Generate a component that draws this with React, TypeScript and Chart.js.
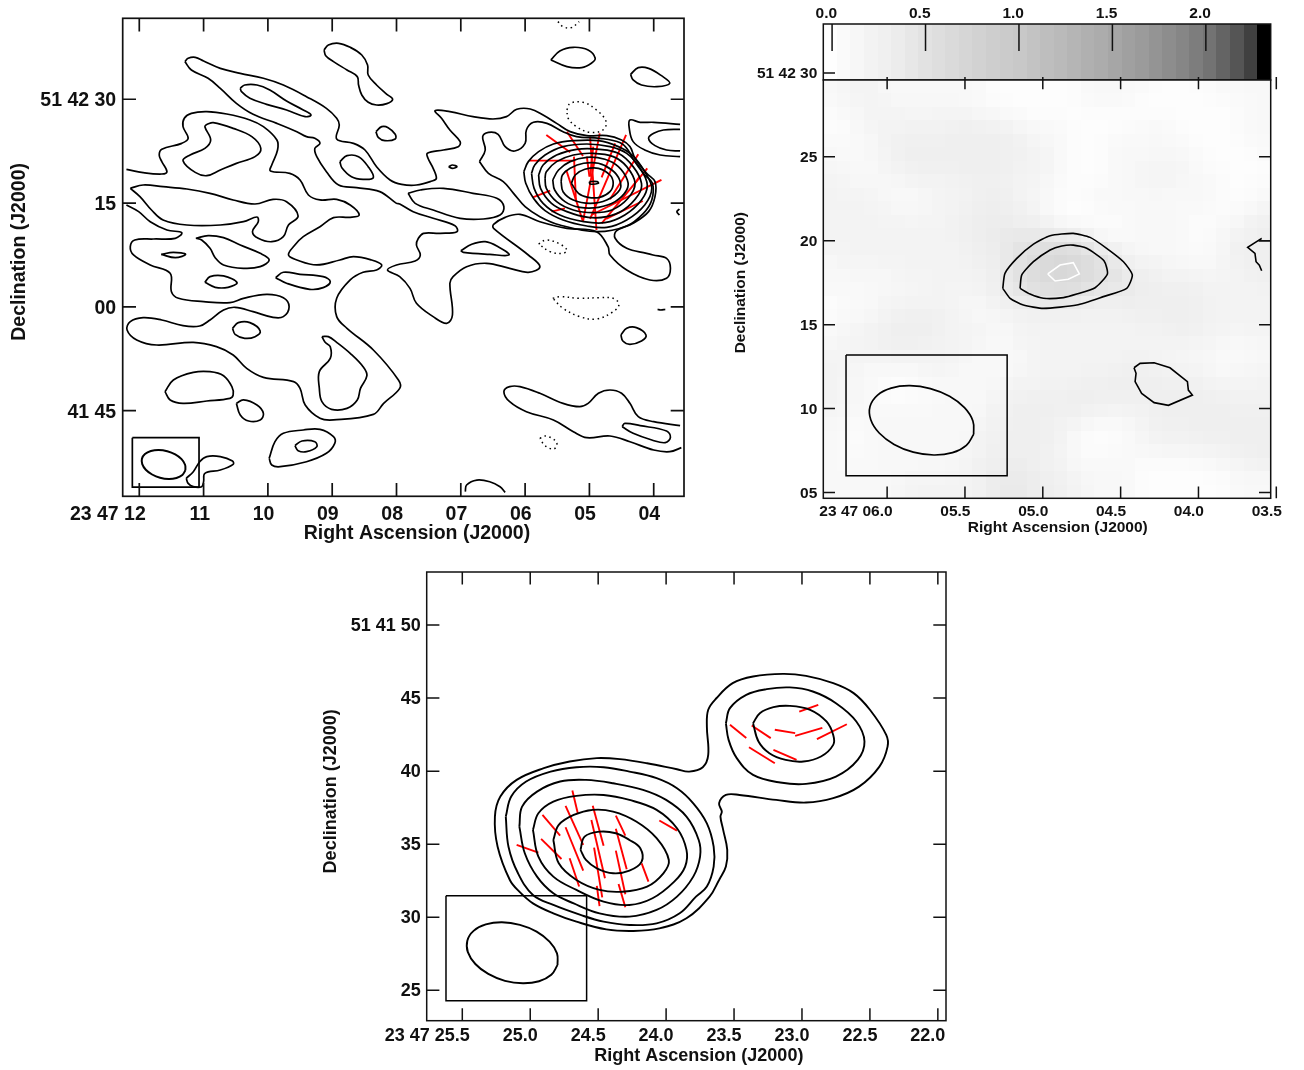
import React, { useEffect, useRef } from "react";
import { Chart, registerables } from "chart.js";

Chart.register(...registerables);

type P = number[];
const FONT = "'Liberation Sans', Arial, sans-serif";

// ---------- Panel 1: tick values ----------
const p1RaTicks = [12, 11, 10, 9, 8, 7, 6, 5, 4];
const p1RaLabels = ["23 47 12", "11", "10", "09", "08", "07", "06", "05", "04"];
const p1DecTicks = [90, 75, 60, 45];
const p1DecLabels = ["51 42 30", "15", "00", "41 45"];

// ---------- Panel 1: contours (RA seconds, Dec arcsec past 51 41 00) ----------
const p1A: P[] = [[11.29,95.44],[11.24,95.92],[11.13,96.06],[11.0,95.53],[10.74,94.47],[10.43,93.75],[10.07,93.03],[9.76,92.06],[9.4,90.38],[9.09,88.69],[8.93,87.25],[8.89,86.28],[8.93,84.26],[8.67,83.63],[8.49,82.67],[8.31,80.26],[8.1,78.34],[7.92,77.71],[7.69,77.61],[7.45,78.19],[7.38,78.58],[7.43,80.02],[7.51,81.47],[7.52,82.19],[7.27,82.67],[7.04,83.15],[7.01,83.88],[7.17,85.56],[7.3,87.25],[7.4,88.36],[7.17,88.21],[6.81,87.49],[6.5,87.15],[6.29,87.49],[6.13,88.55],[5.92,88.6],[5.72,87.73],[5.51,86.52],[5.3,85.32],[5.04,84.75],[4.73,84.75],[4.5,84.12],[4.37,83.16],[4.29,81.47],[4.11,79.3],[3.98,78.1],[3.98,75.93],[4.08,73.76],[4.32,72.08],[4.58,70.97],[4.6,69.91],[4.42,68.46],[4.11,67.74],[4.01,67.5],[3.8,67.02],[3.74,65.57],[3.8,64.13],[4.06,63.89],[4.42,65.33],[4.68,67.5],[4.71,68.7],[4.89,70.87],[5.35,71.35],[5.77,72.31],[6.08,73.37],[6.31,72.94],[6.49,71.93],[6.49,71.35],[5.95,67.5],[5.77,65.81],[5.95,65.0],[6.24,65.57],[6.6,66.3],[6.91,65.81],[7.12,64.37],[7.17,63.41],[7.13,58.83],[7.22,57.63],[7.43,58.59],[7.69,60.52],[7.79,62.68],[7.95,64.37],[8.14,65.33],[8.0,66.06],[7.71,66.63],[7.63,67.5],[7.69,68.94],[7.66,69.91],[7.58,70.63],[7.32,70.63],[7.06,70.87],[7.09,71.74],[7.43,72.8],[7.74,73.76],[7.95,74.87],[8.0,74.96],[8.26,76.65],[8.62,77.23],[8.9,77.61],[9.09,79.54],[9.24,81.71],[9.27,82.91],[9.19,83.63],[9.27,84.36],[9.4,84.6],[9.55,85.32],[9.86,86.52],[10.23,87.83],[10.49,89.41],[10.74,91.58],[10.93,93.03],[11.19,94.23],[11.29,95.44]];
const p1B: P[] = [[12.2,79.88],[11.94,79.4],[11.65,79.2],[11.57,79.54],[11.65,80.99],[11.69,81.95],[11.65,82.77],[11.34,83.63],[11.24,84.36],[11.32,86.04],[11.3,87.25],[11.19,87.97],[10.95,88.21],[10.64,87.87],[10.28,87.01],[10.07,86.04],[9.86,84.12],[9.85,82.67],[9.94,80.5],[9.96,79.64],[9.66,79.3],[9.5,78.34],[9.37,76.17],[9.19,75.45],[8.93,75.54],[8.72,74.72],[8.58,73.28],[8.72,72.94],[8.98,72.89],[9.19,71.59],[9.45,70.15],[9.58,68.94],[9.68,67.5],[9.55,66.78],[9.24,66.06],[8.88,66.78],[8.67,67.26],[8.39,66.78],[8.23,66.06],[8.31,65.33],[8.52,65.0],[8.72,63.89],[8.93,61.24],[8.93,58.59],[8.77,56.9],[8.36,53.77],[7.97,49.44],[7.95,48.23],[8.2,46.06],[8.36,44.47],[8.98,43.66],[9.19,43.9],[9.42,45.82],[9.5,48.23],[9.6,49.2],[10.07,49.82],[10.33,51.12],[10.54,53.05],[10.8,54.25],[11.16,54.88],[11.73,54.49],[12.04,55.22],[12.19,56.66],[12.14,57.87],[11.94,58.44],[11.65,58.11],[11.32,57.29],[11.06,57.24],[10.9,58.11],[10.69,59.55],[10.51,59.94],[10.23,59.31],[9.92,58.49],[9.76,58.59],[9.67,60.03],[9.76,61.33],[10.02,61.82],[10.38,61.24],[10.59,60.61],[11.0,60.76],[11.39,61.24],[11.5,62.2],[11.52,64.85],[11.83,66.06],[12.09,67.5],[12.14,68.7],[12.07,69.66],[11.78,69.81],[11.44,69.91],[11.34,70.72],[11.57,71.11],[11.83,72.31],[12.01,73.76],[12.2,74.72]];
const p1C1: P[] = [[9.127,97.12],[9.06,97.84],[8.9,98.09],[8.72,97.51],[8.54,96.4],[8.45,94.95],[8.44,93.51],[8.31,92.06],[8.15,90.72],[8.06,90.0],[8.15,89.37],[8.31,89.17],[8.44,89.56],[8.54,90.62],[8.59,92.06],[8.61,93.27],[8.77,94.23],[8.98,95.44],[9.1,96.3],[9.127,97.12]];
const p1C3: P[] = [[10.43,91.58],[10.36,92.06],[10.17,92.06],[9.97,91.34],[9.71,89.75],[9.45,88.45],[9.33,87.73],[9.42,87.49],[9.71,88.45],[10.02,89.27],[10.28,90.14],[10.41,91.1],[10.43,91.58]];
const p1C5: P[] = [[10.95,86.38],[10.85,86.62],[10.54,85.8],[10.25,84.6],[10.11,82.91],[10.2,81.71],[10.49,80.74],[10.74,79.78],[10.95,78.96],[11.13,79.44],[11.32,81.13],[11.21,81.95],[10.98,82.91],[10.89,84.12],[10.98,86.04],[10.95,86.38]];
const p1C6: P[] = [[8.88,80.99],[8.77,81.85],[8.59,81.71],[8.44,80.26],[8.36,78.67],[8.52,78.43],[8.7,78.82],[8.85,80.12],[8.88,80.99]];
const p1C7: P[] = [[8.32,85.32],[8.23,86.04],[8.13,85.9],[8.02,84.94],[8.02,84.26],[8.18,84.02],[8.28,84.45],[8.32,85.32]];
const p1C8: P[] = [[7.82,76.41],[7.63,76.89],[7.27,77.13],[6.81,76.41],[6.44,75.69],[6.33,74.48],[6.39,73.28],[6.65,72.7],[7.01,72.8],[7.43,74.0],[7.71,74.96],[7.82,76.41]];
const p1C9: P[] = [[12.14,77.13],[11.94,77.61],[11.63,77.37],[11.26,77.03],[10.9,76.41],[10.54,75.45],[10.2,74.87],[9.92,75.54],[9.71,75.2],[9.53,73.13],[9.68,71.83],[9.76,70.15],[9.94,69.42],[10.15,69.91],[10.24,70.87],[10.15,72.31],[10.17,72.99],[10.38,72.31],[10.74,71.83],[11.26,71.83],[11.63,72.56],[11.81,74.0],[11.99,75.93],[12.14,77.13]];
const p1C11: P[] = [[11.66,67.59],[11.47,67.88],[11.28,67.59],[11.44,67.11],[11.66,67.59]];
const p1C12: P[] = [[11.12,69.91],[10.93,70.29],[10.69,70.0],[10.43,68.94],[10.12,67.74],[9.98,66.78],[10.12,65.81],[10.38,65.57],[10.69,66.06],[10.82,67.11],[10.9,68.46],[11.03,69.66],[11.12,69.91]];
const p1C13: P[] = [[10.98,63.55],[10.9,64.37],[10.69,64.47],[10.48,63.5],[10.62,62.83],[10.82,62.83],[10.98,63.55]];
const p1C14: P[] = [[9.88,64.22],[9.76,65.0],[9.5,64.71],[9.14,64.37],[9.03,63.65],[9.14,62.78],[9.35,62.54],[9.71,63.41],[9.88,64.22]];
const p1C15: P[] = [[10.55,56.9],[10.46,57.72],[10.28,57.72],[10.12,56.52],[10.2,55.7],[10.36,55.46],[10.51,56.04],[10.55,56.9]];
const p1C16: P[] = [[11.6,47.75],[11.47,49.44],[11.16,50.54],[10.9,50.64],[10.69,50.06],[10.56,48.47],[10.54,47.27],[10.59,46.79],[10.95,46.4],[11.32,46.06],[11.52,46.55],[11.6,47.75]];
const p1C17: P[] = [[10.49,46.06],[10.38,46.55],[10.17,45.82],[10.07,44.62],[10.12,43.66],[10.3,43.51],[10.43,44.38],[10.49,46.06]];
const p1C18: P[] = [[9.16,55.7],[9.06,55.7],[8.93,54.88],[8.72,53.29],[8.52,51.36],[8.46,50.06],[8.56,48.23],[8.61,46.55],[8.77,45.34],[9.01,45.2],[9.16,46.3],[9.2,48.23],[9.2,50.64],[9.03,52.57],[9.03,54.25],[9.11,54.88],[9.16,55.7]];
const p1C19: P[] = [[9.98,38.12],[9.89,40.52],[9.76,41.73],[9.45,42.21],[9.19,42.31],[8.98,41.25],[8.96,40.28],[9.09,38.84],[9.4,37.63],[9.81,36.91],[9.94,37.15],[9.98,38.12]];
const p1C20: P[] = [[9.58,39.95],[9.47,40.62],[9.27,40.52],[9.24,39.8],[9.4,39.08],[9.53,39.22],[9.58,39.95]];
const p1C21: P[] = [[11.27,35.23],[11.16,36.19],[11.06,37.63],[10.95,38.36],[10.74,38.36],[10.55,37.73],[10.54,37.25],[10.74,36.43],[10.98,35.95],[11.0,34.74],[11.03,34.02],[11.16,34.02],[11.24,34.5],[11.27,35.23]];
const p1C24: P[] = [[5.6,95.68],[5.46,96.98],[5.25,97.51],[5.02,97.12],[4.91,95.92],[4.97,95.2],[5.12,94.57],[5.35,94.71],[5.6,95.68]];
const p1C25: P[] = [[4.36,93.61],[4.24,94.57],[4.08,94.47],[3.88,93.41],[3.75,92.31],[3.95,91.82],[4.19,92.06],[4.32,92.79],[4.36,93.61]];
const p1C28: P[] = [[6.71,80.99],[6.62,82.67],[6.66,84.6],[6.57,85.22],[6.42,84.94],[6.31,83.15],[6.16,82.53],[6.0,83.63],[5.98,85.56],[5.87,86.67],[5.66,86.52],[5.41,85.32],[5.2,84.6],[4.84,84.36],[4.52,83.73],[4.4,82.67],[4.32,81.33],[4.14,79.06],[4.02,77.86],[4.03,75.45],[4.16,73.52],[4.42,71.69],[4.89,70.87],[5.46,71.83],[5.77,73.04],[6.0,74.48],[6.18,76.41],[6.34,78.1],[6.57,79.3],[6.71,80.99]];
const p1R1: P[] = [[6.02,79.54],[5.99,77.86],[5.87,75.69],[5.69,73.91],[5.41,72.56],[5.04,71.69],[4.73,71.5],[4.42,72.56],[4.14,74.73],[4.03,77.13],[4.14,79.54],[4.34,81.95],[4.55,83.16],[4.86,84.02],[5.25,84.02],[5.56,83.54],[5.79,82.43],[5.95,80.99],[6.02,79.54]];
const p1R2: P[] = [[5.9,79.3],[5.86,77.13],[5.72,74.97],[5.46,73.28],[5.09,72.32],[4.76,72.17],[4.45,73.28],[4.19,75.45],[4.1,77.62],[4.21,80.02],[4.42,82.19],[4.68,83.16],[5.04,83.54],[5.41,83.16],[5.69,81.95],[5.85,80.51],[5.9,79.3]];
const p1R3: P[] = [[5.79,79.06],[5.76,77.13],[5.59,74.97],[5.35,73.76],[5.02,72.94],[4.73,73.04],[4.47,74.0],[4.24,76.17],[4.19,77.86],[4.32,80.27],[4.55,82.19],[4.84,82.77],[5.2,82.77],[5.51,81.95],[5.72,80.51],[5.79,79.06]];
const p1R4: P[] = [[5.69,78.58],[5.67,77.13],[5.51,75.21],[5.25,74.0],[4.94,73.62],[4.65,74.0],[4.4,75.69],[4.29,77.86],[4.42,80.27],[4.63,81.71],[4.94,82.19],[5.25,81.95],[5.51,80.99],[5.67,79.54],[5.69,78.58]];
const p1R5: P[] = [[5.57,78.34],[5.54,76.89],[5.38,75.21],[5.15,74.39],[4.86,74.39],[4.6,75.21],[4.42,76.89],[4.41,78.34],[4.55,80.27],[4.76,81.33],[5.04,81.61],[5.3,80.99],[5.48,79.78],[5.57,78.34]];
const p1R6: P[] = [[5.44,78.1],[5.41,76.65],[5.25,75.45],[4.99,74.97],[4.73,75.45],[4.53,76.89],[4.53,78.34],[4.65,79.78],[4.86,80.75],[5.09,80.75],[5.3,80.02],[5.42,79.06],[5.44,78.1]];
const p1R7: P[] = [[5.28,77.86],[5.22,79.06],[5.07,79.88],[4.86,80.02],[4.68,79.06],[4.63,77.86],[4.68,76.65],[4.84,75.83],[5.02,75.83],[5.17,76.41],[5.28,77.86]];
const p1Core: P[] = [[5.0,78.1],[4.88,78.1],[4.86,77.86],[4.99,77.76],[5.0,78.1]];
const p1C30: P[] = [[7.0,68.12],[6.83,69.04],[6.62,69.42],[6.42,68.7],[6.25,67.5],[6.55,67.59],[6.96,67.88],[7.0,68.12]];
const p1C32: P[] = [[7.19,80.26],[7.13,80.5],[7.06,80.26],[7.13,80.02],[7.19,80.26]];
const p1C33: P[] = [[3.59,86.38],[4.0,86.67],[4.21,86.67],[4.37,87.01],[4.38,85.8],[4.32,83.88],[4.14,82.67],[3.9,81.95],[3.59,81.71]];
const p1C34: P[] = [[3.59,85.66],[3.85,85.56],[4.0,85.08],[4.08,84.36],[3.98,83.3],[3.8,82.67],[3.59,82.53]];
const p1C35: P[] = [[3.6,74.14],[3.64,73.76],[3.6,73.28]];
const p1C37: P[] = [[3.94,59.65],[3.89,59.55],[3.82,59.65]];
const p1C38: P[] = [[4.51,55.94],[4.42,56.9],[4.27,57.0],[4.12,55.94],[4.19,55.07],[4.37,54.59],[4.48,55.07],[4.51,55.94]];
const p1C39: P[] = [[3.59,42.84],[4.0,43.41],[4.24,44.14],[4.37,46.06],[4.5,47.51],[4.68,47.99],[4.86,47.51],[5.02,46.06],[5.15,45.58],[5.41,46.06],[5.77,47.51],[6.08,48.47],[6.24,48.47],[6.33,47.75],[6.24,46.3],[5.98,44.86],[5.56,43.66],[5.25,41.97],[5.04,41.1],[4.68,41.34],[4.37,40.52],[4.0,39.32],[3.75,39.08],[3.57,39.66]];
const p1C41: P[] = [[4.49,42.69],[4.45,43.17],[4.21,42.84],[3.8,42.07],[3.74,41.15],[3.82,40.38],[4.03,40.77],[4.32,41.73],[4.49,42.69]];
const p1C43: P[] = [[6.93,33.3],[6.91,34.26],[6.75,34.98],[6.55,34.74],[6.39,34.02],[6.31,33.2]];
const p1Solid: P[][] = [p1A,p1B,p1C1,p1C3,p1C5,p1C6,p1C7,p1C8,p1C9,p1C11,p1C12,p1C13,p1C14,p1C15,p1C16,p1C17,p1C18,p1C19,p1C20,p1C21,p1C24,p1C25,p1C28,p1R1,p1R2,p1R3,p1R4,p1R5,p1R6,p1R7,p1Core,p1C30,p1C32,p1C33,p1C34,p1C35,p1C37,p1C38,p1C39,p1C41,p1C43];

const p1Neg1: P[] = [[5.49,101.22],[5.41,100.49],[5.28,100.35],[5.16,101.22]];
const p1Neg2: P[] = [[5.35,88.45],[5.3,89.41],[5.1,89.56],[4.89,88.45],[4.74,86.77],[4.79,85.56],[4.99,85.22],[5.2,86.04],[5.33,87.25],[5.35,88.45]];
const p1Neg3: P[] = [[5.79,69.09],[5.67,69.66],[5.46,69.09],[5.35,68.22],[5.41,67.74],[5.61,67.98],[5.79,69.09]];
const p1Neg4: P[] = [[5.57,61.24],[5.46,61.48],[5.15,61.24],[4.84,61.33],[4.63,61.24],[4.54,60.37],[4.63,59.31],[4.89,58.25],[5.15,58.59],[5.41,59.79],[5.57,61.24]];
const p1Neg5: P[] = [[5.77,41.01],[5.67,41.34],[5.51,40.43],[5.55,39.47],[5.69,39.95],[5.77,41.01]];
const p1Dotted: P[][] = [p1Neg1,p1Neg2,p1Neg3,p1Neg4,p1Neg5];

const p1Beam: P[] = [[11.283,36.39],[11.33,35.72],[11.422,35.28],[11.543,35.13],[11.677,35.31],[11.801,35.78],[11.899,36.46],[11.954,37.27],[11.959,38.07],[11.912,38.74],[11.82,39.18],[11.699,39.33],[11.565,39.15],[11.441,38.68],[11.343,37.995],[11.288,37.19],[11.283,36.39]];
const p1Box: P[] = [[12.108,41.1],[11.071,41.1],[11.071,33.97],[12.108,33.97],[12.108,41.1]];
// polarisation vectors: ra1, dec1, ra2, dec2
const p1Vectors: P[] = [[5.93,81.13,5.22,81.13],[5.88,75.83,5.61,76.8],[5.59,73.76,5.38,74.24],[5.36,79.78,5.1,72.32],[5.24,81.71,5.21,75.45],[5.04,81.71,5.0,78.82],[4.99,84.6,4.89,71.11],[4.84,85.08,5.1,72.32],[4.6,83.64,4.81,78.72],[4.43,84.84,4.99,72.7],[4.24,82.05,4.68,75.55],[4.1,80.02,4.81,72.08],[3.88,78.34,4.97,73.28],[4.17,75.3,4.74,72.7],[4.22,78.82,4.32,77.47],[5.67,84.84,5.3,82.34],[5.35,85.32,5.1,81.81],[4.94,83.16,4.99,78.82]];

// ---------- Panel 2 ----------
const p2RaTicks = [6.0, 5.5, 5.0, 4.5, 4.0, 3.5];
const p2RaLabels = ["23 47 06.0", "05.5", "05.0", "04.5", "04.0", "03.5"];
const p2DecTicks = [30, 25, 20, 15, 10, 5];
const p2DecLabels = ["51 42 30", "25", "20", "15", "10", "05"];
const barTicks = [0, 0.5, 1.0, 1.5, 2.0];
const barLabels = ["0.0", "0.5", "1.0", "1.5", "2.0"];
const barGrays = [254,250,247,243,240,236,231,226,222,218,214,210,206,203,200,195,190,186,181,176,172,166,160,155,148,141,134,125,115,100,85,64,0];
const p2Outer: P[] = [[5.257,17.16],[5.243,18.06],[5.167,18.95],[5.06,19.8],[4.953,20.3],[4.804,20.44],[4.696,20.2],[4.59,19.55],[4.482,18.75],[4.425,17.96],[4.461,17.16],[4.611,16.67],[4.782,16.17],[4.996,15.97],[5.125,16.17],[5.21,16.57],[5.257,17.16]];
const p2Inner: P[] = [[5.146,17.16],[5.135,17.96],[5.06,18.75],[4.953,19.45],[4.878,19.69],[4.804,19.74],[4.718,19.55],[4.607,18.81],[4.585,18.02],[4.664,17.2],[4.782,16.82],[4.868,16.61],[4.996,16.57],[5.082,16.82],[5.146,17.16]];
const p2Peak: P[] = [[4.968,18.02],[4.889,18.55],[4.804,18.69],[4.765,18.02],[4.836,17.7],[4.921,17.6],[4.968,18.02]];
const p2Blob: P[] = [[4.414,12.43],[4.375,12.69],[4.285,12.73],[4.183,12.43],[4.071,11.6],[4.065,11.1],[4.039,10.8],[4.193,10.19],[4.285,10.35],[4.365,10.9],[4.407,11.6],[4.401,12.1],[4.414,12.43]];
const p2Edge: P[] = [[3.536,20.0],[3.615,20.0],[3.594,20.14],[3.684,19.61],[3.637,19.25],[3.63,18.75],[3.609,18.55],[3.594,18.21]];
const p2WhiteA: P[] = [[4.979,16.55],[4.962,16.55]];
const p2WhiteB: P[] = [[4.889,16.61],[4.863,16.65]];
const p2Beam: P[] = [[5.444,8.47],[5.491,7.81],[5.58,7.37],[5.7,7.23],[5.832,7.4],[5.955,7.86],[6.051,8.54],[6.105,9.33],[6.11,10.12],[6.063,10.79],[5.974,11.22],[5.854,11.36],[5.722,11.19],[5.599,10.73],[5.503,10.05],[5.449,9.26],[5.444,8.47]];
const p2Box: P[] = [[6.264,13.19],[5.229,13.19],[5.229,6.0],[6.264,6.0],[6.264,13.19]];
// image cells: digit = tenths of a unit on the wedge, top row first, left column first
const p2Image = [
  "122211111111000000011111000011111",
  "112221111111000000011110000000111",
  "011222222221110000000000000000011",
  "001222222333322111000001110000111",
  "101123333333332211000111111000011",
  "111123333333333221000111111100001",
  "211122333333332221000112222100000",
  "221111222233322211000112221111001",
  "222211112222332210011111111110001",
  "222221112233432210001111111110112",
  "222222222233333311000011111001123",
  "222222222233444444330011111011233",
  "222222222233345566654311111102333",
  "122222222223345677765432211102233",
  "111112222222345677766543322222233",
  "111111122222345566654443333322222",
  "001122222211233444433333333322222",
  "011123333221122222222233333322222",
  "112233333222112222222222233322222",
  "122233332222112222222222222221112",
  "222222222211111222222222221111011",
  "221111122211111222222333322211122",
  "221100001111122222333333333322222",
  "221100011111223333333333333333222",
  "221111111111233333332222333333333",
  "110111111112233332210112333333333",
  "110111111112333332100011222333333",
  "110111111122333332100111222222333",
  "111111111122333322111110000011223",
  "111111222223444433211110000000111",
  "111112222222344333221110000000111",
];

// ---------- Panel 3 ----------
const p3RaTicks = [25.5, 25.0, 24.5, 24.0, 23.5, 23.0, 22.5, 22.0];
const p3RaLabels = ["23 47 25.5", "25.0", "24.5", "24.0", "23.5", "23.0", "22.5", "22.0"];
const p3DecTicks = [50, 45, 40, 35, 30, 25];
const p3DecLabels = ["51 41 50", "45", "40", "35", "30", "25"];
const p3S1: P[] = [[23.61,32.55],[23.56,33.47],[23.55,34.61],[23.58,35.98],[23.6,36.89],[23.59,37.23],[23.61,37.8],[23.56,38.37],[23.46,38.37],[23.19,38.03],[22.97,37.85],[22.77,38.15],[22.58,38.94],[22.43,40.31],[22.37,41.68],[22.38,42.48],[22.5,44.2],[22.62,45.34],[22.77,46.02],[22.97,46.52],[23.14,46.66],[23.36,46.48],[23.51,46.02],[23.63,44.99],[23.69,44.2],[23.7,43.05],[23.69,41.11],[23.73,40.27],[23.83,39.97],[23.92,40.13],[24.14,40.54],[24.34,40.82],[24.51,40.89],[24.71,40.66],[24.9,40.2],[25.1,39.4],[25.22,38.26],[25.26,36.89],[25.24,34.83],[25.15,32.55],[25.08,31.75],[24.98,30.95],[24.83,30.27],[24.66,29.7],[24.44,29.17],[24.24,29.06],[24.05,29.24],[23.85,29.93],[23.68,31.41],[23.61,32.55]];
const p3S2: P[] = [[25.18,36.89],[25.14,38.26],[25.03,39.29],[24.85,39.97],[24.66,40.27],[24.46,40.27],[24.27,39.97],[24.07,39.52],[23.92,38.83],[23.8,37.8],[23.7,36.43],[23.65,34.83],[23.65,33.47],[23.7,32.1],[23.78,31.41],[23.9,30.27],[24.07,29.58],[24.27,29.47],[24.46,29.7],[24.63,30.16],[24.83,30.84],[24.98,31.52],[25.09,33.01],[25.16,34.83],[25.18,36.89]];
const p3S3: P[] = [[25.08,36.2],[25.06,37.57],[24.95,38.6],[24.78,39.29],[24.59,39.4],[24.39,39.17],[24.17,38.72],[24.0,38.03],[23.85,36.89],[23.76,35.29],[23.75,34.15],[23.8,32.78],[23.92,31.41],[24.07,30.5],[24.27,30.04],[24.49,30.27],[24.68,30.95],[24.83,31.64],[24.95,32.78],[25.04,34.38],[25.08,36.2]];
const p3S4: P[] = [[24.98,35.98],[24.94,37.12],[24.83,37.92],[24.66,38.31],[24.46,38.37],[24.27,38.03],[24.07,37.35],[23.92,36.09],[23.85,34.61],[23.86,33.47],[23.94,32.44],[24.1,31.3],[24.27,30.84],[24.46,31.07],[24.66,31.87],[24.83,32.78],[24.94,34.15],[24.98,35.98]];
const p3S5: P[] = [[24.83,35.29],[24.79,36.32],[24.68,37.0],[24.54,37.35],[24.39,37.23],[24.22,36.55],[24.07,35.41],[23.98,33.92],[24.02,33.01],[24.14,32.1],[24.32,31.75],[24.49,31.87],[24.66,32.55],[24.79,33.69],[24.83,35.29]];
const p3S6: P[] = [[24.63,34.61],[24.6,35.52],[24.49,35.86],[24.37,35.75],[24.27,35.29],[24.19,34.72],[24.18,33.81],[24.27,33.19],[24.39,33.01],[24.51,33.35],[24.59,33.92],[24.63,34.61]];
const p3L2: P[] = [[23.56,43.28],[23.53,44.31],[23.41,45.22],[23.26,45.61],[23.09,45.73],[22.92,45.45],[22.75,44.65],[22.6,43.4],[22.54,42.03],[22.59,40.77],[22.75,39.63],[22.97,39.13],[23.16,39.22],[23.36,39.74],[23.48,40.89],[23.54,42.14],[23.56,43.28]];
const p3L3: P[] = [[23.36,43.28],[23.31,43.97],[23.21,44.38],[23.09,44.47],[22.94,44.2],[22.82,43.4],[22.77,42.48],[22.77,41.8],[22.86,41.0],[22.99,40.66],[23.12,40.77],[23.24,41.23],[23.32,42.03],[23.36,43.28]];
const p3Beam: P[] = [[24.799,26.73],[24.845,26.06],[24.935,25.62],[25.054,25.48],[25.186,25.65],[25.309,26.12],[25.404,26.8],[25.459,27.61],[25.463,28.4],[25.417,29.07],[25.327,29.51],[25.208,29.66],[25.076,29.48],[24.953,29.02],[24.858,28.33],[24.803,27.53],[24.799,26.73]];
const p3Box: P[] = [[25.62,31.48],[24.585,31.48],[24.585,24.29],[25.62,24.29],[25.62,31.48]];
const p3Vectors: P[] = [[25.1,34.95,24.94,34.42],[24.92,35.36,24.77,33.99],[24.91,37.0,24.78,35.59],[24.69,38.67,24.65,37.12],[24.74,37.62,24.61,34.95],[24.74,36.16,24.61,33.19],[24.71,34.04,24.64,32.1],[24.54,37.64,24.46,34.9],[24.55,36.66,24.45,32.67],[24.53,34.77,24.47,31.36],[24.51,32.14,24.49,30.77],[24.37,36.96,24.3,35.59],[24.37,36.05,24.29,33.28],[24.37,34.56,24.3,31.57],[24.35,32.28,24.3,30.68],[24.18,33.69,24.13,32.44],[24.05,36.62,23.92,35.93],[23.53,43.17,23.41,42.27],[23.37,43.12,23.23,42.26],[23.39,41.64,23.2,40.54],[23.2,42.83,23.05,42.6],[23.21,41.46,23.04,40.77],[23.05,42.41,22.85,42.96],[23.02,44.08,22.88,44.54],[22.89,42.19,22.67,43.21]];

// ---------- helpers ----------
const toPts = (a: P[]) => a.map(([x, y]) => ({ x, y }));
const line = (a: P[], opts: any = {}) => ({
  data: toPts(a),
  showLine: true,
  pointRadius: 0,
  fill: false,
  borderColor: "#000",
  borderWidth: 1.7,
  tension: 0.38,
  ...opts,
});
const vector = (v: P[], width = 1.9) =>
  v.map(([a, b, c, d]) => line([[a, b], [c, d]], { borderColor: "#f00", borderWidth: width, tension: 0 }));

type Tk = { len: number; over?: number };
function framePlugin(cfg: {
  x: number[]; y: number[]; top: Tk; bottom?: Tk; left?: Tk; right?: Tk;
  lw: number; noRightAbove?: number; color?: string;
}) {
  return {
    id: "frame",
    afterDatasetsDraw(chart: any) {
      const { ctx, chartArea: a, scales } = chart;
      ctx.save();
      ctx.strokeStyle = "#111";
      ctx.lineWidth = cfg.lw;
      ctx.strokeRect(a.left, a.top, a.right - a.left, a.bottom - a.top);
      ctx.beginPath();
      for (const v of cfg.x) {
        const p = scales.x.getPixelForValue(v);
        ctx.moveTo(p, a.top - (cfg.top.over ?? 0));
        ctx.lineTo(p, a.top + cfg.top.len);
        if (cfg.bottom) {
          ctx.moveTo(p, a.bottom);
          ctx.lineTo(p, a.bottom - cfg.bottom.len);
        }
      }
      for (const v of cfg.y) {
        const p = scales.y.getPixelForValue(v);
        if (cfg.left) {
          ctx.moveTo(a.left, p);
          ctx.lineTo(a.left + cfg.left.len, p);
        }
        if (cfg.right && !(cfg.noRightAbove !== undefined && v >= cfg.noRightAbove)) {
          ctx.moveTo(a.right, p);
          ctx.lineTo(a.right - cfg.right.len, p);
        }
      }
      ctx.stroke();
      ctx.restore();
    },
  };
}

const noPad = (s: any) => {
  s.paddingLeft = s.paddingRight = s.paddingTop = s.paddingBottom = 0;
};

function axis(o: {
  min: number; max: number; ticks: number[]; labels: string[]; size: number; pos: string;
  reverse?: boolean; fit: number; tickPad: number; labelOffset?: number; title?: string; titlePad?: any;
}) {
  const horizontal = o.pos === "bottom" || o.pos === "top";
  return {
    type: "linear",
    position: o.pos,
    min: o.min,
    max: o.max,
    reverse: !!o.reverse,
    grid: { display: false, drawTicks: false },
    border: { display: false },
    afterBuildTicks: (s: any) => {
      s.ticks = o.ticks.map((value) => ({ value }));
    },
    afterFit: (s: any) => {
      if (horizontal) s.height = o.fit;
      else s.width = o.fit;
      noPad(s);
    },
    ticks: {
      autoSkip: false,
      maxRotation: 0,
      minRotation: 0,
      align: horizontal ? "end" : "center",
      padding: o.tickPad,
      labelOffset: o.labelOffset ?? 0,
      color: "#111",
      font: { family: FONT, weight: "bold", size: o.size },
      callback: (_v: any, i: number) => o.labels[i],
    },
    title: o.title
      ? {
          display: true,
          text: o.title,
          color: "#111",
          padding: o.titlePad,
          font: { family: FONT, weight: "bold", size: o.size, lineHeight: 1.2 },
        }
      : { display: false },
  };
}

const barMin = -0.047;
const barMax = 2.347;
const grayOf = (v: number) => {
  const pos = Math.max(0, Math.min(barGrays.length - 1, ((v - barMin) / (barMax - barMin)) * barGrays.length - 0.5));
  const i = Math.floor(pos);
  const j = Math.min(barGrays.length - 1, i + 1);
  const g = Math.round(barGrays[i] + (barGrays[j] - barGrays[i]) * (pos - i));
  return `rgb(${g},${g},${g})`;
};

const p2RaMin = 3.536;
const p2RaMax = 6.41;
const p2DecMin = 4.65;
const p2DecMax = 29.58;

// the map is a smooth synthesised image: each cell is shown with a small beam-like taper of its neighbours
const cellValue = (r: number, c: number) => {
  const rows = p2Image.length;
  const cols = p2Image[0].length;
  const kernel = [1, 2, 1];
  let sum = 0;
  let wt = 0;
  for (let i = -1; i <= 1; i++) {
    for (let j = -1; j <= 1; j++) {
      const rr = r + i;
      const cc = c + j;
      if (rr < 0 || rr >= rows || cc < 0 || cc >= cols) continue;
      const w = kernel[i + 1] * kernel[j + 1];
      sum += w * Number(p2Image[rr][cc] ?? 0);
      wt += w;
    }
  }
  return (sum / wt) * 0.1;
};

const imagePlugin = {
  id: "image",
  beforeDatasetsDraw(chart: any) {
    const { ctx, scales } = chart;
    const rows = p2Image.length;
    const cols = p2Image[0].length;
    const dx = (p2RaMax - p2RaMin) / cols;
    const dy = (p2DecMax - p2DecMin) / rows;
    for (let r = 0; r < rows; r++) {
      for (let c = 0; c < cols; c++) {
        const x0 = Math.round(scales.x.getPixelForValue(p2RaMax - c * dx));
        const x1 = Math.round(scales.x.getPixelForValue(p2RaMax - (c + 1) * dx));
        const y0 = Math.round(scales.y.getPixelForValue(p2DecMax - r * dy));
        const y1 = Math.round(scales.y.getPixelForValue(p2DecMax - (r + 1) * dy));
        ctx.fillStyle = grayOf(cellValue(r, c));
        ctx.fillRect(x0, y0, x1 - x0, y1 - y0);
      }
    }
  },
};

const wedgePlugin = {
  id: "wedge",
  beforeDatasetsDraw(chart: any) {
    const { ctx, chartArea: a, scales } = chart;
    const n = barGrays.length;
    const d = (barMax - barMin) / n;
    barGrays.forEach((g, i) => {
      const x0 = Math.round(scales.x.getPixelForValue(barMin + i * d));
      const x1 = Math.round(scales.x.getPixelForValue(barMin + (i + 1) * d));
      ctx.fillStyle = `rgb(${g},${g},${g})`;
      ctx.fillRect(x0, a.top, x1 - x0, a.bottom - a.top);
    });
  },
};

const base = (padding: any, scales: any) => ({
  responsive: false,
  animation: false as const,
  devicePixelRatio: 1,
  layout: { padding },
  plugins: { legend: { display: false }, tooltip: { enabled: false }, title: { display: false } },
  scales,
});

function Canvas({ left, top, w, h, z, build }: any) {
  const ref = useRef<HTMLCanvasElement>(null);
  useEffect(() => {
    const chart = new Chart(ref.current as any, build());
    return () => chart.destroy();
  }, []);
  return <canvas ref={ref} width={w} height={h} style={{ position: "absolute", left, top, width: w, height: h, zIndex: z, display: "block" }} />;
}

const panel1 = () => ({
  type: "scatter",
  data: {
    datasets: [
      ...p1Solid.map((c) => line(c)),
      ...p1Dotted.map((c) => line(c, { borderDash: [1.5, 3.5], borderWidth: 1.5 })),
      line(p1Beam, { tension: 0.4, borderWidth: 2 }),
      line(p1Box, { tension: 0 }),
      ...vector(p1Vectors),
    ],
  },
  options: base(
    { top: 18.3, right: 16, left: 0, bottom: 0 },
    {
      x: axis({ min: 3.529, max: 12.258, reverse: true, ticks: p1RaTicks, labels: p1RaLabels, size: 19.5, pos: "bottom", fit: 53.7, tickPad: 7, labelOffset: 6.5, title: "     Right Ascension (J2000)", titlePad: { top: 0, bottom: 4.6 } }),
      y: axis({ min: 32.63, max: 101.7, ticks: p1DecTicks, labels: p1DecLabels, size: 19.5, pos: "left", fit: 122.7, tickPad: 6.5, labelOffset: 1.8, title: "  Declination (J2000)", titlePad: { top: 8, bottom: 0 } }),
    }
  ),
  plugins: [framePlugin({ x: p1RaTicks, y: p1DecTicks, top: { len: 13.3 }, bottom: { len: 13.3 }, left: { len: 13.3 }, right: { len: 13.3 }, lw: 1.7 })],
});

const wedge = () => ({
  type: "scatter",
  data: { datasets: [] },
  options: base(
    { top: 0, right: 33.3, left: 123.3, bottom: 465 },
    {
      x: axis({ min: barMin, max: barMax, ticks: barTicks, labels: barLabels, size: 15.5, pos: "top", fit: 24, tickPad: 1, labelOffset: 5 }),
      y: { display: false, min: 0, max: 1 },
    }
  ),
  plugins: [wedgePlugin, framePlugin({ x: barTicks, y: [], top: { len: 27 }, lw: 1.5 })],
});

const panel2 = () => ({
  type: "scatter",
  data: {
    datasets: [
      line(p2Outer, { tension: 0.2, borderWidth: 1.6 }),
      line(p2Inner, { tension: 0.2, borderWidth: 1.6 }),
      line(p2WhiteA, { tension: 0, borderColor: "#fff", borderWidth: 1.6 }),
      line(p2WhiteB, { tension: 0, borderColor: "#fff", borderWidth: 1.6 }),
      line(p2Peak, { tension: 0, borderColor: "#fff", borderWidth: 1.6 }),
      line(p2Blob, { tension: 0, borderWidth: 1.6 }),
      line(p2Edge, { tension: 0, borderWidth: 1.6 }),
      line(p2Beam, { tension: 0.4, borderWidth: 1.7 }),
      line(p2Box, { tension: 0, borderWidth: 1.5 }),
    ],
  },
  options: base(
    { top: 80, right: 33.3, left: 0, bottom: 0 },
    {
      x: axis({ min: p2RaMin, max: p2RaMax, reverse: true, ticks: p2RaTicks, labels: p2RaLabels, size: 15.5, pos: "bottom", fit: 46.7, tickPad: 4, labelOffset: 5.5, title: "     Right Ascension (J2000)", titlePad: { top: 0, bottom: 8 } }),
      y: axis({ min: p2DecMin, max: p2DecMax, ticks: p2DecTicks, labels: p2DecLabels, size: 15.5, pos: "left", fit: 123.3, tickPad: 6, labelOffset: 1, title: "   Declination (J2000)", titlePad: { top: 31, bottom: 0 } }),
    }
  ),
  plugins: [imagePlugin, framePlugin({ x: p2RaTicks, y: p2DecTicks, top: { len: 9.3, over: 3 }, bottom: { len: 11.7 }, left: { len: 11.7 }, right: { len: 11.7 }, noRightAbove: 30, lw: 1.5 })],
});

const panel3 = () => ({
  type: "scatter",
  data: {
    datasets: [
      ...[p3S1, p3S2, p3S3, p3S4, p3S5, p3S6, p3L2, p3L3].map((c) => line(c, { borderWidth: 1.9 })),
      line(p3Beam, { tension: 0.4, borderWidth: 1.9 }),
      line(p3Box, { tension: 0, borderWidth: 1.5 }),
      ...vector(p3Vectors),
    ],
  },
  options: base(
    { top: 12, right: 34, left: 0, bottom: 0 },
    {
      x: axis({ min: 21.94, max: 25.762, reverse: true, ticks: p3RaTicks, labels: p3RaLabels, size: 18, pos: "bottom", fit: 49.3, tickPad: 5, labelOffset: 7.5, title: "     Right Ascension (J2000)", titlePad: { top: 0, bottom: 3 } }),
      y: axis({ min: 22.92, max: 53.63, ticks: p3DecTicks, labels: p3DecLabels, size: 18, pos: "left", fit: 126.7, tickPad: 6, labelOffset: 1, title: "  Declination (J2000)", titlePad: { top: 20, bottom: 0 } }),
    }
  ),
  plugins: [framePlugin({ x: p3RaTicks, y: p3DecTicks, top: { len: 12.5 }, bottom: { len: 12.5 }, left: { len: 12.7 }, right: { len: 12.7 }, lw: 1.5 })],
});

export default function App() {
  return (
    <div style={{ position: "absolute", left: 0, top: 0, width: 1304, height: 1070, overflow: "hidden", background: "#fff" }}>
      <Canvas left={0} top={0} w={700} h={550} z={1} build={panel1} />
      <Canvas left={700} top={0} w={604} h={545} z={1} build={wedge} />
      <Canvas left={700} top={0} w={604} h={545} z={2} build={panel2} />
      <Canvas left={300} top={560} w={680} h={510} z={3} build={panel3} />
    </div>
  );
}
